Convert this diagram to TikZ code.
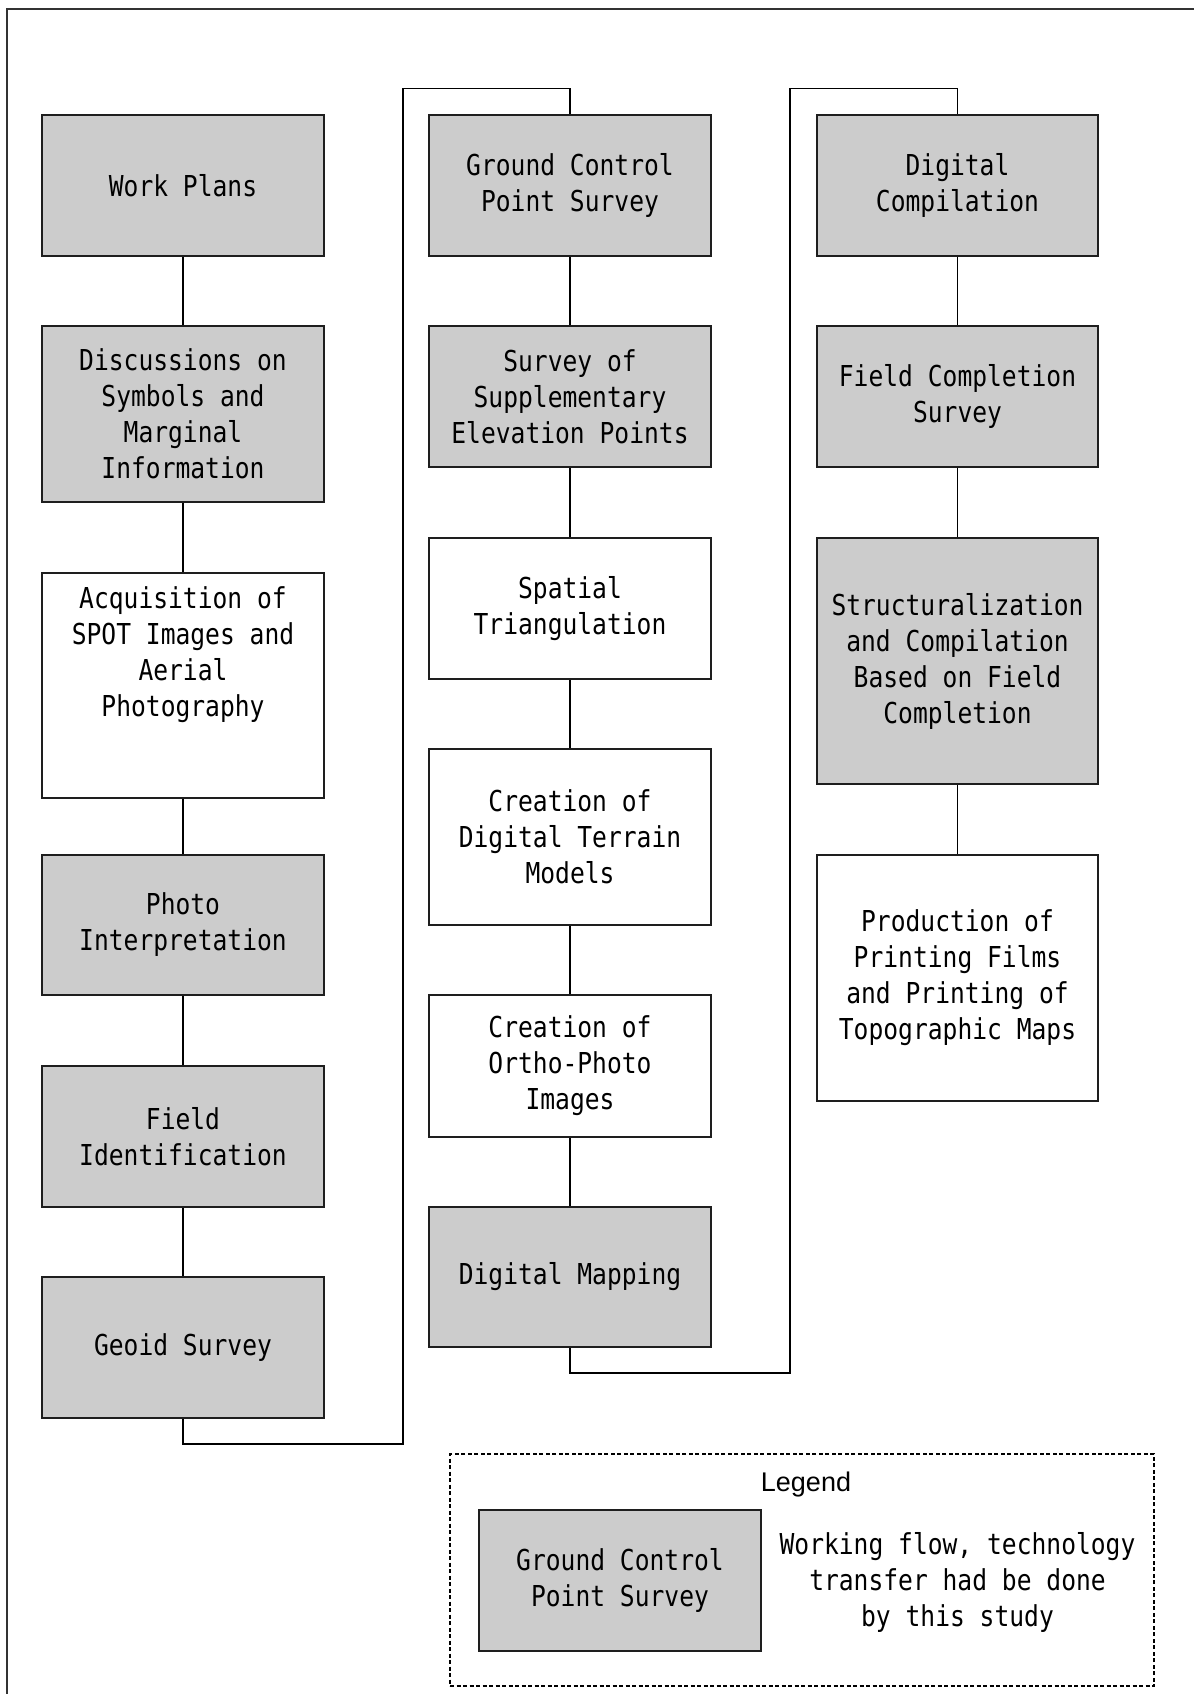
\documentclass[tikz,border=0pt]{standalone}
\usepackage{fontspec}
\newfontfamily\boxfamily[FakeStretch=0.855]{DejaVu Sans Mono}
\newfontfamily\legendfamily{Liberation Sans}
\definecolor{boxgray}{HTML}{CCCCCC}
\definecolor{edgecol}{HTML}{1E1E1E}
\tikzset{
  graybox/.style={rectangle, draw=edgecol, line width=1.8pt, fill=boxgray,
    minimum width=282pt, inner sep=0pt, align=center,
    font=\boxfamily\fontsize{28.8}{36}\selectfont},
  whitebox/.style={graybox, fill=white},
  boxtext/.style={inner sep=0pt, align=center, font=\boxfamily\fontsize{28.8}{36}\selectfont},
  link/.style={line width=1.1pt, draw=black},
  legendframe/.style={rectangle, draw=black, line width=1.3pt, dash pattern=on 4pt off 2.5pt,
    minimum width=704pt, minimum height=232pt, inner sep=0pt}
}
\begin{document}
\begin{tikzpicture}[x=1pt,y=-1pt]
\useasboundingbox (0,0) rectangle (1194,1694);
% outer frame (top and left edges)
\draw[line width=2pt, draw=black!80] (7,1694) -- (7,9.3) -- (1194,9.3);

% column 1
\node[graybox, minimum height=141pt] (wp) at (183,185.5) {Work Plans};
\node[graybox, minimum height=176pt] (disc) at (183,414) {Discussions on\\Symbols and\\Marginal\\Information};
\node[whitebox, minimum height=225pt] (acq) at (183,685.5) {};
\node[boxtext] (acqtext) at ([yshift=31pt]acq.center) {Acquisition of\\SPOT Images and\\Aerial\\Photography};
\node[graybox, minimum height=140pt] (photo) at (183,925) {Photo\\Interpretation};
\node[graybox, minimum height=141pt] (fid) at (183,1136.5) {Field\\Identification};
\node[graybox, minimum height=141pt] (geoid) at (183,1347.5) {Geoid Survey};

% column 2
\node[graybox, minimum height=141pt] (gcp) at (570,185.5) {Ground Control\\Point Survey};
\node[graybox, minimum height=141pt] (supp) at (570,396.5) {Survey of\\Supplementary\\Elevation Points};
\node[whitebox, minimum height=141pt] (spat) at (570,608.5) {Spatial\\Triangulation};
\node[whitebox, minimum height=176pt] (dtm) at (570,837) {Creation of\\Digital Terrain\\Models};
\node[whitebox, minimum height=142pt] (ortho) at (570,1066) {Creation of\\Ortho-Photo\\Images};
\node[graybox, minimum height=140pt] (dm) at (570,1277) {Digital Mapping};

% column 3
\node[graybox, minimum width=281pt, minimum height=141pt] (dc) at (957.5,185.5) {Digital\\Compilation};
\node[graybox, minimum width=281pt, minimum height=141pt] (fc) at (957.5,396.5) {Field Completion\\Survey};
\node[graybox, minimum width=281pt, minimum height=246pt] (struct) at (957.5,661) {Structuralization\\and Compilation\\Based on Field\\Completion};
\node[whitebox, minimum width=281pt, minimum height=246pt] (prod) at (957.5,978) {Production of\\Printing Films\\and Printing of\\Topographic Maps};

% vertical links
\draw[link] (wp.south) -- (disc.north);
\draw[link] (disc.south) -- (acq.north);
\draw[link] (acq.south) -- (photo.north);
\draw[link] (photo.south) -- (fid.north);
\draw[link] (fid.south) -- (geoid.north);
\draw[link] (gcp.south) -- (supp.north);
\draw[link] (supp.south) -- (spat.north);
\draw[link] (spat.south) -- (dtm.north);
\draw[link] (dtm.south) -- (ortho.north);
\draw[link] (ortho.south) -- (dm.north);
\draw[link] (dc.south) -- (fc.north);
\draw[link] (fc.south) -- (struct.north);
\draw[link] (struct.south) -- (prod.north);

% column-to-column loops
\coordinate (l1a) at (403,1444);
\coordinate (l1b) at (403,88.6);
\draw[link] (geoid.south) |- (l1a) -- (l1b) -| (gcp.north);
\coordinate (l2a) at (790,1373);
\coordinate (l2b) at (790,88.6);
\draw[link] (dm.south) |- (l2a) -- (l2b) -| (dc.north);

% legend
\node[legendframe] (legend) at (802,1570) {};
\node[anchor=base, inner sep=0pt, font=\legendfamily\fontsize{27}{32}\selectfont] (legtitle) at (806,1491) {Legend};
\node[graybox, minimum height=141pt] (lgcp) at (620,1580.5) {Ground Control\\Point Survey};
\node[boxtext] (ltext) at (957.5,1582) {Working flow, technology\\transfer had be done\\by this study};
\end{tikzpicture}
\end{document}
